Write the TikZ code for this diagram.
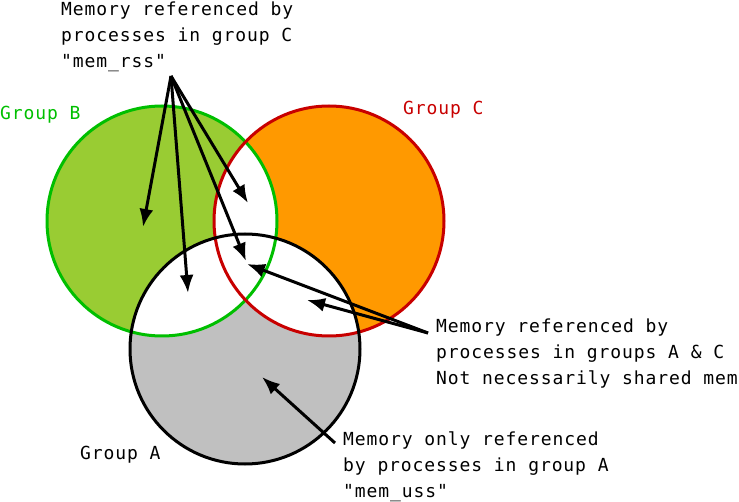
\documentclass[tikz,border=0pt]{standalone}
\usepackage{fontspec}
\setmonofont[LetterSpace=5]{DejaVu Sans Mono}
\usepackage{xcolor}
\usetikzlibrary{positioning}
\usetikzlibrary{arrows, arrows.meta}

\definecolor{fillB}{HTML}{99CC33}
\definecolor{fillC}{HTML}{FF9900}
\definecolor{fillA}{HTML}{C0C0C0}
\definecolor{lineB}{HTML}{00BF00}
\definecolor{lineC}{HTML}{C80000}

\begin{document}
\begin{tikzpicture}[x=1pt, y=-1pt,
    label/.style={font=\fontsize{18}{26}\selectfont\ttfamily, inner sep=0pt, anchor=base west, align=left},
    ptr/.style={-{Latex[length=18pt,width=14pt]}, line width=3pt}]
  \useasboundingbox (0,0) rectangle (739,502);
  \def\radius{115pt}

  \coordinate (OB) at (162,221);
  \coordinate (OC) at (329,221);
  \coordinate (OA) at (245,349);

  % the three groups
  \fill[fillB] (OB) circle[radius=\radius];
  \fill[fillC] (OC) circle[radius=\radius];
  \fill[fillA] (OA) circle[radius=\radius];
  \begin{scope}
    \clip (OA) circle[radius=\radius];
    \fill[white] (OB) circle[radius=\radius];
    \fill[white] (OC) circle[radius=\radius];
  \end{scope}
  \begin{scope}
    \clip (OB) circle[radius=\radius];
    \fill[white] (OC) circle[radius=\radius];
  \end{scope}
  \draw[lineB, line width=3pt] (OB) circle[radius=\radius];
  \draw[lineC, line width=3pt] (OC) circle[radius=\radius];
  \draw[black, line width=3pt] (OA) circle[radius=\radius];

  % labels (base = last line)
  \node[label, text=lineB] (grpB) at (0,120) {Group B};
  \node[label, text=lineC] (grpC) at (403,115) {Group C};
  \node[label] (grpA) at (80,459) {Group A};
  \node[label] (rss) at (61,68) {Memory referenced by\\processes in group C\\"mem\_rss"};
  \node[label] (shared) at (436,385) {Memory referenced by\\processes in groups A \& C\\Not necessarily shared mem};
  \node[label] (uss) at (343,497) {Memory only referenced\\by processes in group A\\"mem\_uss"};

  % arrow ends
  \coordinate (rssO) at (171,76);
  \coordinate (sharedO) at (428,333);
  \coordinate (ussO) at (335,443);
  \coordinate (onlyB) at (143,227);
  \coordinate (BC) at (248,203);
  \coordinate (ABC) at (246,261);
  \coordinate (AB) at (188,293);
  \coordinate (ABC2) at (247,264);
  \coordinate (AC) at (307,300);
  \coordinate (onlyA) at (262,377);

  \draw[ptr] (rssO) -- (onlyB);
  \draw[ptr] (rssO) -- (BC);
  \draw[ptr] (rssO) -- (ABC);
  \draw[ptr] (rssO) -- (AB);
  \draw[ptr] (sharedO) -- (ABC2);
  \draw[ptr] (sharedO) -- (AC);
  \draw[ptr] (ussO) -- (onlyA);
\end{tikzpicture}
\end{document}
